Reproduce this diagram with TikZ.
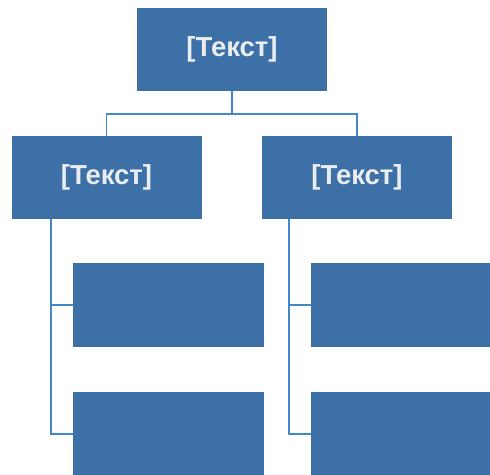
\documentclass[tikz,border=0pt]{standalone}
\usepackage{fontspec}
\setmainfont{Liberation Sans}
\definecolor{boxblue}{RGB}{60,112,166}
\definecolor{lineblue}{RGB}{66,136,205}
\definecolor{txt}{RGB}{234,237,240}
\begin{document}
\begin{tikzpicture}[x=1pt,y=-1pt,
  orgbox/.style={fill=boxblue,draw=none,inner sep=0pt,font=\bfseries\fontsize{27.5}{30}\selectfont,text=txt},
  conn/.style={draw=lineblue,line width=1.5pt}]
\useasboundingbox (0,0) rectangle (490,474);
\begin{scope}
\clip (0,0) rectangle (490,474);
\node[orgbox,minimum width=190pt,minimum height=83pt] (top) at (232,49.5) {[Текст]};
\node[orgbox,minimum width=190pt,minimum height=83pt] (L) at (106.5,177.5) {[Текст]};
\node[orgbox,minimum width=190pt,minimum height=83pt] (R) at (357,177.5) {[Текст]};
\node[orgbox,minimum width=191pt,minimum height=84pt] (L1) at (168.5,305) {};
\node[orgbox,minimum width=191pt,minimum height=84pt] (L2) at (168.5,434) {};
\node[orgbox,minimum width=191pt,minimum height=84pt] (R1) at (406.5,305) {};
\node[orgbox,minimum width=191pt,minimum height=84pt] (R2) at (406.5,434) {};
\coordinate (J) at (232,114);
\draw[conn] (top.south) -- (J);
\draw[conn] (J) -| (L.north);
\draw[conn] (J) -| (R.north);
\coordinate (LB) at (51,219);
\coordinate (RB) at (289,219);
\draw[conn] (LB) |- (L1.west);
\draw[conn] (LB) |- (L2.west);
\draw[conn] (RB) |- (R1.west);
\draw[conn] (RB) |- (R2.west);
\end{scope}
\end{tikzpicture}
\end{document}
